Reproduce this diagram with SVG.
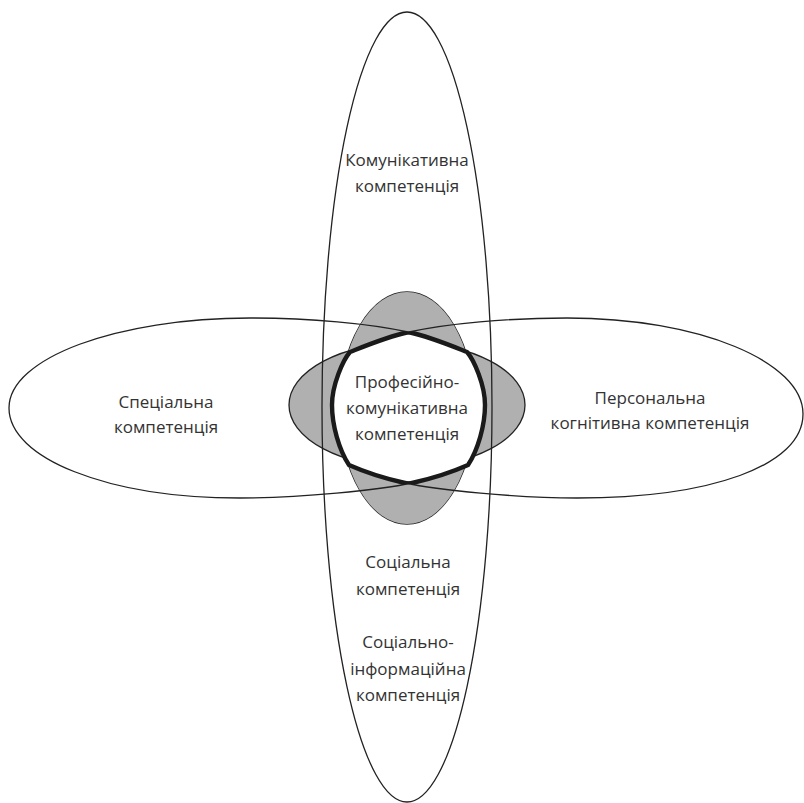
<svg xmlns="http://www.w3.org/2000/svg" width="804" height="803" viewBox="0 0 804 803">
<style>
.t{font-family:"Open Sans","Noto Sans","Liberation Sans",sans-serif;font-size:17px;fill:#333;text-anchor:middle}
.o{fill:none;stroke:#222;stroke-width:1.3}
.g{fill:#b0b0b0;stroke:#222;stroke-width:1.3}
.k{fill:none;stroke:#1a1a1a;stroke-width:4.4}
</style>
<defs>
<path id="pL" d="M 9 408 C 9 358 117 318 250 318 C 310 318 370 323.6 408 332 C 430 336.8 447 344 467 352 C 474 360 485 385 485 405 C 485 425 478 450 468 465 C 450 473 430 479 412 483 C 380 490 300 498 240 498 C 107 498 9 458 9 408 Z"/>
<path id="pR" d="M 803 414 C 803 362 700 318 567 318 C 507 318 447 323.6 409 332 C 387 336.8 370 344 350 352 C 343 360 332 385 332 405 C 332 425 339 450 349 465 C 367 473 387 479 405 483 C 437 490 517 498 577 498 C 710 498 803 466 803 414 Z"/>
<clipPath id="cL"><use href="#pL"/></clipPath>
<clipPath id="cR"><use href="#pR"/></clipPath>
</defs>
<rect width="804" height="803" fill="#fff"/>
<g id="shaded">
<ellipse class="g" cx="407" cy="408" rx="67" ry="116"/>
<ellipse class="g" cx="407" cy="405" rx="118" ry="62"/>
<ellipse cx="407" cy="408" rx="67" ry="116" fill="#b0b0b0"/>
</g>
<g id="core-fill"><use href="#pL" fill="#fff" clip-path="url(#cR)"/></g>
<g id="n-komunikatyvna">
<ellipse class="o" cx="407" cy="407" rx="85" ry="395"/>
<text class="t" x="407" y="166">Комунікативна</text>
<text class="t" x="407" y="192">компетенція</text>
</g>
<g id="n-spetsialna">
<use href="#pL" class="o"/>
<text class="t" x="166" y="408">Спеціальна</text>
<text class="t" x="166" y="433">компетенція</text>
</g>
<g id="n-personalna">
<use href="#pR" class="o"/>
<text class="t" x="650" y="404">Персональна</text>
<text class="t" x="650" y="429">когнітивна компетенція</text>
</g>
<g id="n-core">
<use href="#pL" class="k" clip-path="url(#cR)"/>
<use href="#pR" class="k" clip-path="url(#cL)"/>
<text class="t" x="407" y="388">Професійно-</text>
<text class="t" x="407" y="414">комунікативна</text>
<text class="t" x="407" y="440">компетенція</text>
</g>
<g id="n-sotsialna">
<text class="t" x="408" y="568">Соціальна</text>
<text class="t" x="408" y="595">компетенція</text>
</g>
<g id="n-sotsialno-informatsiina">
<text class="t" x="408" y="648">Соціально-</text>
<text class="t" x="408" y="675">інформаційна</text>
<text class="t" x="408" y="701">компетенція</text>
</g>
</svg>
